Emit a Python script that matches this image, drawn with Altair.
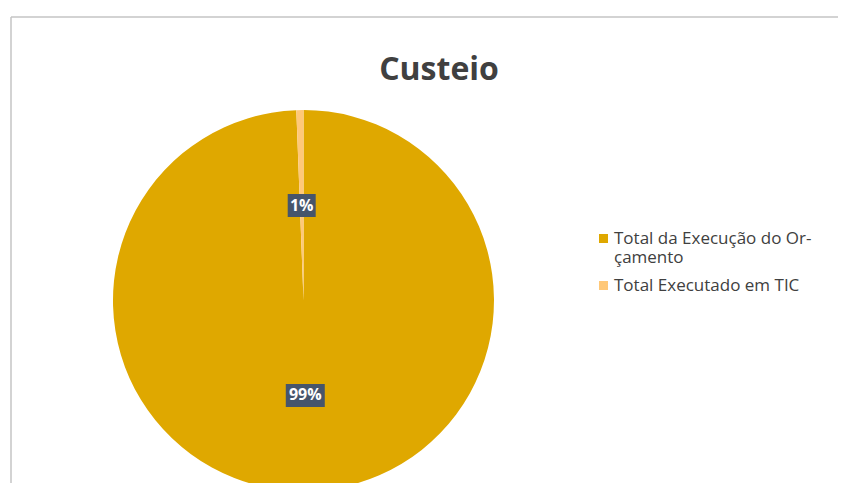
import altair as alt
import pandas as pd

# ---- data ----
categories = ["Total da Execução do  Orçamento", "Total Executado em TIC"]
values = [99.4, 0.6]
labels = ["99%", "1%"]
colors = ["#DFA800", "#FFC878"]
title_text = "Custeio"
legend_lines = ["Total da Execução do  Or-", "çamento"]

df = pd.DataFrame({"categoria": categories, "valor": values,
                   "rotulo": labels, "ordem": list(range(len(categories)))})

W, H = 830, 475
CX, CY, R = 295.5, 292.5, 190.5
LR = 95

base = alt.Chart(df)

label_expr = ("datum.label == '" + categories[0] + "' ? ['" + legend_lines[0] +
              "', '" + legend_lines[1] + "'] : datum.label")

pie = base.mark_arc(outerRadius=R).encode(
    theta=alt.Theta("valor:Q", stack=True),
    order=alt.Order("ordem:Q"),
    color=alt.Color("categoria:N",
                    scale=alt.Scale(domain=categories, range=colors),
                    sort=categories,
                    legend=alt.Legend(title=None, orient="none", legendX=587, legendY=222,
                                      symbolType="square", symbolSize=81,
                                      symbolStrokeWidth=0, labelFontSize=17,
                                      labelFont="Open Sans", labelColor="#404040",
                                      labelOffset=2, rowPadding=10, labelLimit=400,
                                      padding=0, labelExpr=label_expr)),
    x=alt.value(CX), y=alt.value(CY),
)

lab = base.transform_window(
    cum="sum(valor)", sort=[alt.SortField("ordem")], frame=[None, 0]
).transform_joinaggregate(
    total="sum(valor)"
).transform_calculate(
    mid="(datum.cum - datum.valor/2)/datum.total*2*PI"
).transform_calculate(
    cx=f"{CX} + {LR}*sin(datum.mid)",
    cy=f"{CY} - {LR}*cos(datum.mid)",
    bw="length(datum.rotulo)*11 + 6",
).transform_calculate(
    x1="datum.cx - datum.bw/2", x2="datum.cx + datum.bw/2",
    y1="datum.cy - 11.5", y2="datum.cy + 11.5",
)

boxes = lab.mark_rect(color="#46556B").encode(
    x=alt.X("x1:Q", scale=None, axis=None), x2="x2:Q",
    y=alt.Y("y1:Q", scale=None, axis=None), y2="y2:Q",
)
texts = lab.mark_text(color="white", fontWeight="bold", fontSize=16,
                      font="Open Sans", baseline="middle").encode(
    x=alt.X("cx:Q", scale=None, axis=None),
    y=alt.Y("cy:Q", scale=None, axis=None),
    text="rotulo:N",
)

title = alt.Chart(pd.DataFrame({"t": [title_text]})).mark_text(
    font="Open Sans", fontWeight="bold", fontSize=32, color="#404040",
    baseline="alphabetic", align="center"
).encode(text="t:N", x=alt.value(431), y=alt.value(72))

border_top = alt.Chart(pd.DataFrame({"a": [0]})).mark_rule(
    color="#c4c4c4", strokeWidth=1.5).encode(x=alt.value(3), x2=alt.value(W), y=alt.value(9))
border_left = alt.Chart(pd.DataFrame({"a": [0]})).mark_rule(
    color="#c4c4c4", strokeWidth=1.5).encode(x=alt.value(3), y=alt.value(9), y2=alt.value(H))

chart = alt.layer(border_top, border_left, pie, boxes, texts, title).properties(
    width=W, height=H,
    autosize=alt.AutoSizeParams(type="none"),
    padding=0,
    background="white",
).configure_view(stroke=None)

chart.save("out.html", embed_options={"renderer": "svg", "actions": False})
